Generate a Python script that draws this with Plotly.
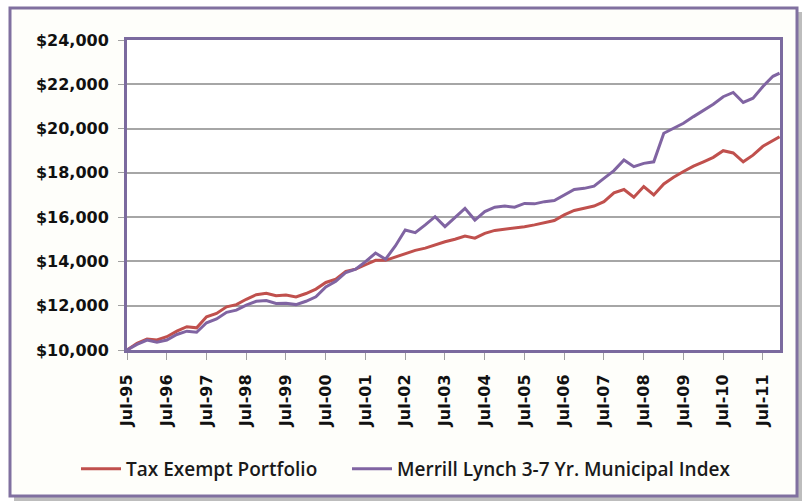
import plotly.graph_objects as go
import pandas as pd

# quarterly observations, Jul-1995 .. Oct-2011, plus Dec-2011
dates = list(pd.date_range("1995-07-01", "2011-10-01", freq="3MS").strftime("%Y-%m-%d")) + ["2011-12-01"]

tax_exempt = [
    10000, 10300,
    10500, 10450, 10600, 10850,
    11050, 11000, 11500, 11650,
    11950, 12050, 12290, 12500,
    12560, 12450, 12480, 12400,
    12550, 12750, 13050, 13200,
    13550, 13650, 13850, 14050,
    14050, 14200, 14370, 14500,
    14600, 14750, 14890, 15000,
    15150, 15050, 15270, 15400,
    15450, 15500, 15570, 15650,
    15750, 15850, 16100, 16300,
    16400, 16500, 16700, 17100,
    17250, 16900, 17380, 17000,
    17500, 17800, 18060, 18300,
    18500, 18700, 19000, 18900,
    18500, 18800, 19200, 19450, 19630,
]

merrill = [
    10000, 10250,
    10450, 10350, 10450, 10700,
    10850, 10800, 11230, 11400,
    11700, 11800, 12030, 12200,
    12230, 12100, 12110, 12050,
    12200, 12400, 12850, 13100,
    13500, 13650, 13990, 14380,
    14100, 14700, 15420, 15300,
    15650, 16020, 15570, 16000,
    16400, 15870, 16250, 16450,
    16500, 16450, 16620, 16600,
    16700, 16750, 17000, 17250,
    17300, 17400, 17750, 18100,
    18580, 18280, 18430, 18500,
    19790, 20000, 20240, 20540,
    20840, 21100, 21440, 21630,
    21180, 21370, 21900, 22360, 22500,
]

tick_years = list(range(1995, 2012))
tick_vals = [f"{y}-07-01" for y in tick_years]
tick_text = [f"Jul-{str(y)[2:]}" for y in tick_years]

y_ticks = [10000, 12000, 14000, 16000, 18000, 20000, 22000, 24000]
y_text = [f"${v:,}" for v in y_ticks]

series_names = ["Tax Exempt Portfolio", "Merrill Lynch 3-7 Yr. Municipal Index"]
series_colors = ["#C0504D", "#8064A2"]

W, H = 806, 502
L, R, T, B = 127, 26, 40, 152
pw, ph = W - L - R, H - T - B

def px2x(px):
    return (px - L) / pw

def px2y(py):
    return (H - B - py) / ph

fig = go.Figure()
for name, vals, col, lg in zip(series_names, [tax_exempt, merrill], series_colors, ["legend", "legend2"]):
    fig.add_trace(go.Scatter(x=dates, y=vals, mode="lines", name=name, legend=lg,
                             line=dict(color=col, width=3)))

tick_font = "DejaVu Sans, sans-serif"
leg_font = "Open Sans, Noto Sans, sans-serif"

def leg(xpx):
    return dict(orientation="h", x=px2x(xpx), y=px2y(469), xanchor="left", yanchor="middle",
                font=dict(family=leg_font, size=19, color="#1a1a1a", weight=600),
                bgcolor="rgba(0,0,0,0)", itemwidth=40)

fig.update_layout(
    width=W, height=H,
    margin=dict(l=L, r=R, t=T, b=B),
    paper_bgcolor="white",
    plot_bgcolor="white",
    showlegend=True,
    legend=leg(76),
    legend2=leg(347),
    shapes=[
        dict(type="rect", xref="paper", yref="paper", layer="below",
             x0=px2x(14), x1=px2x(802), y0=px2y(12), y1=px2y(501),
             line=dict(width=0), fillcolor="#BDBDBD"),
        dict(type="rect", xref="paper", yref="paper", layer="below",
             x0=px2x(10), x1=px2x(797), y0=px2y(8), y1=px2y(496),
             line=dict(color="#8070A0", width=3), fillcolor="#FEFEFA"),
        dict(type="rect", xref="paper", yref="paper", layer="below",
             x0=0, x1=1, y0=0, y1=1,
             line=dict(width=0), fillcolor="white"),
    ],
)

fig.update_xaxes(
    type="date",
    range=["1995-07-01", "2011-12-05"],
    tickvals=tick_vals, ticktext=tick_text, tickangle=-90,
    tickfont=dict(family=tick_font, size=16, color="#111111", weight="bold"),
    showgrid=False, zeroline=False,
    showline=True, linecolor="#7B6A9E", linewidth=3, mirror=True,
    ticks="outside", ticklen=7, tickcolor="#A0A0A0", tickwidth=1,
    ticklabelstandoff=8,
)
fig.update_yaxes(
    range=[10000, 24000],
    tickvals=y_ticks, ticktext=y_text,
    tickfont=dict(family=tick_font, size=16, color="#111111", weight="bold"),
    showgrid=True, gridcolor="#A6A6A6", gridwidth=1.5, zeroline=False,
    showline=True, linecolor="#7B6A9E", linewidth=3, mirror=True,
    ticks="outside", ticklen=6, tickcolor="#A0A0A0", tickwidth=1,
    ticklabelstandoff=6,
)

fig.write_html("out.html", config={"displayModeBar": False},
               post_script="document.body.style.margin='0';")
